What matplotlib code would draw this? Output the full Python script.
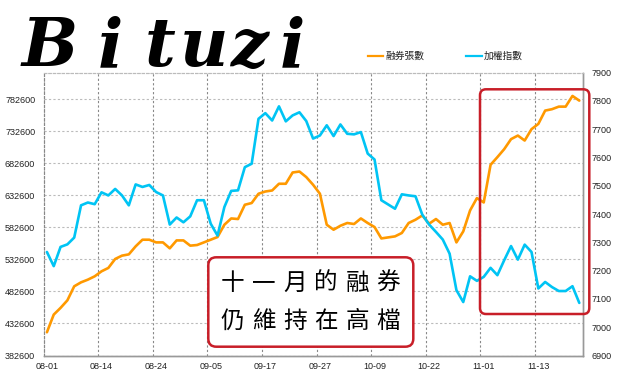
import matplotlib
matplotlib.use("Agg")
import matplotlib.pyplot as plt
from matplotlib.patches import FancyBboxPatch
from matplotlib.lines import Line2D
import numpy as np

plt.rcParams['font.family'] = ['Liberation Sans', 'Noto Sans CJK TC']

dates = ["08-01", "08-03", "08-06", "08-07", "08-08", "08-09", "08-10", "08-13",
         "08-14", "08-15", "08-16", "08-17", "08-20", "08-21", "08-22", "08-23",
         "08-24", "08-27", "08-28", "08-29", "08-30", "08-31", "09-03", "09-04",
         "09-05", "09-06", "09-07", "09-10", "09-11", "09-12", "09-13", "09-14",
         "09-17", "09-18", "09-19", "09-20", "09-21", "09-24", "09-25", "09-26",
         "09-27", "09-28", "10-01", "10-02", "10-03", "10-04", "10-05", "10-08",
         "10-09", "10-11", "10-12", "10-15", "10-16", "10-17", "10-18", "10-19",
         "10-22", "10-23", "10-24", "10-25", "10-26", "10-29", "10-30", "10-31",
         "11-01", "11-02", "11-05", "11-06", "11-07", "11-08", "11-09", "11-12",
         "11-13", "11-14", "11-15", "11-16", "11-19", "11-20", "11-21"]

short_sales = [418900, 446500, 457000, 468800, 490700, 496900, 501100, 506300,
               514100, 519400, 533400, 538600, 540600, 553100, 563500, 563500,
               559300, 559300, 550000, 562400, 562400, 554200, 555200, 559300,
               563500, 567700, 586900, 596700, 595800, 618100, 620800, 635300,
               638800, 640400, 650900, 650900, 668500, 670000, 661300, 649300,
               635300, 586900, 579100, 585300, 589600, 588000, 596700, 589600,
               583300, 565500, 567100, 568700, 574000, 589600, 594700, 601400,
               588500, 595800, 586900, 589600, 559300, 576500, 609200, 628500,
               621700, 680500, 692500, 705000, 720600, 726200, 718400, 736200,
               744400, 765200, 767400, 771400, 771400, 788100, 780800]

taiex = [7266, 7216, 7284, 7293, 7317, 7431, 7441, 7435,
         7477, 7466, 7489, 7466, 7431, 7505, 7496, 7503,
         7478, 7466, 7363, 7388, 7371, 7392, 7449, 7449,
         7366, 7324, 7425, 7482, 7484, 7566, 7578, 7737,
         7757, 7731, 7781, 7728, 7749, 7760, 7729, 7667,
         7678, 7714, 7676, 7717, 7684, 7682, 7690, 7614,
         7593, 7449, 7434, 7419, 7470, 7466, 7463, 7398,
         7363, 7337, 7310, 7260, 7131, 7089, 7180, 7164,
         7178, 7210, 7184, 7237, 7287, 7239, 7292, 7266,
         7137, 7160, 7142, 7128, 7128, 7145, 7086]

left_ticks = [382600, 432600, 482600, 532600, 582600, 632600, 682600, 732600, 782600]
right_ticks = [6900, 7000, 7100, 7200, 7300, 7400, 7500, 7600, 7700, 7800, 7900]
series_names = ["融券張數", "加權指數"]
note_lines = ["十一月的融券", "仍維持在高檔"]
logo = "Bituzi"

W, H = 619, 383
ORANGE = '#FF9900'
BLUE = '#00C4F4'
RED = '#C81E28'

fig = plt.figure(figsize=(W / 100, H / 100), dpi=100)
L, R, T, B = 43.5, 582.7, 72.7, 355.5
ax = fig.add_axes([L / W, 1 - B / H, (R - L) / W, (B - T) / H])
ax2 = ax.twinx()

x = np.arange(len(dates))
ax.plot(x, short_sales, color=ORANGE, lw=1.9, solid_capstyle='round')
ax2.plot(x, taiex, color=BLUE, lw=1.9, solid_capstyle='round')

ax.set_xlim(-0.5, len(dates) - 0.5)
ax.set_ylim(382600, 824400)
ax2.set_ylim(6900, 7900)

ax.set_yticks(left_ticks)
ax.set_yticklabels([str(v) for v in left_ticks])
ax2.set_yticks(right_ticks)
ax2.set_yticklabels([str(v) for v in right_ticks])

lab_idx = list(range(0, len(dates), 8))
ax.set_xticks(lab_idx)
ax.set_xticklabels([dates[i] for i in lab_idx])
ax.set_xticks([i - 0.5 for i in range(8, len(dates), 8)], minor=True)

ax.tick_params(axis='y', length=0, pad=6, labelsize=6.5, colors='#222222')
ax2.tick_params(axis='y', length=0, pad=6.5, labelsize=6.5, colors='#222222')
ax.tick_params(axis='x', which='both', length=0, pad=5, labelsize=6.5, colors='#222222')

ax.grid(axis='y', which='major', color='#BBBBBB', linestyle=(0, (2, 2)), lw=0.8)
ax.grid(axis='x', which='minor', color='#888888', linestyle=(0, (2, 2)), lw=0.8)
ax.grid(axis='x', which='major', visible=False)
ax.set_axisbelow(True)

for a in (ax, ax2):
    a.spines['top'].set_color('#BBBBBB')
    a.spines['top'].set_linestyle((0, (2, 2)))
    a.spines['top'].set_linewidth(0.8)
    a.spines['left'].set_color('#888888')
    a.spines['left'].set_linestyle((0, (2, 2)))
    a.spines['left'].set_linewidth(0.8)
    a.spines['bottom'].set_color('#999999')
    a.spines['bottom'].set_linewidth(1.0)
    a.spines['right'].set_color('#999999')
    a.spines['right'].set_linewidth(1.0)


def fx(px):
    return px / W


def fy(py):
    return 1 - py / H


cjk = ['Noto Sans CJK TC', 'DejaVu Sans']
ly = 55.7
fig.add_artist(Line2D([fx(368), fx(383)], [fy(ly), fy(ly)], color=ORANGE, lw=1.6))
fig.text(fx(385), fy(ly), series_names[0], fontsize=7, family=cjk, va='center', ha='left', color='#222222')
fig.add_artist(Line2D([fx(465.5), fx(481.5)], [fy(ly), fy(ly)], color=BLUE, lw=1.6))
fig.text(fx(484), fy(ly), series_names[1], fontsize=7, family=cjk, va='center', ha='left', color='#222222')

# logo, letters spread like the brush lettering
logo_x = [50, 110, 160, 204, 250, 292]
for ch, lx in zip(logo, logo_x):
    fig.text(fx(lx), fy(66), ch, fontsize=48, family='DejaVu Serif', style='italic',
             weight='bold', va='baseline', ha='center', color='black')


def rbox(x0, y0, x1, y1, lw, fc, rs, z):
    p = FancyBboxPatch((x0 / 100, (H - y1) / 100), (x1 - x0) / 100, (y1 - y0) / 100,
                       boxstyle=f"round,pad=0,rounding_size={rs}",
                       transform=fig.dpi_scale_trans, fc=fc, ec=RED, lw=lw, zorder=z)
    fig.add_artist(p)


rbox(480, 89.3, 589.3, 314, 1.8, 'none', 0.06, 10)
rbox(208.3, 257.3, 413.3, 346.7, 1.8, 'white', 0.08, 10)

cell = 31.2
x_start = 216.7 + cell / 2
for line, cy in zip(note_lines, [283.3, 321.7]):
    for k, ch in enumerate(line):
        t = fig.text(fx(x_start + k * cell), fy(cy), ch, fontsize=17, family=cjk,
                     va='center', ha='center', color='black')
        t.set_zorder(11)

fig.savefig("out.png", dpi=100)
